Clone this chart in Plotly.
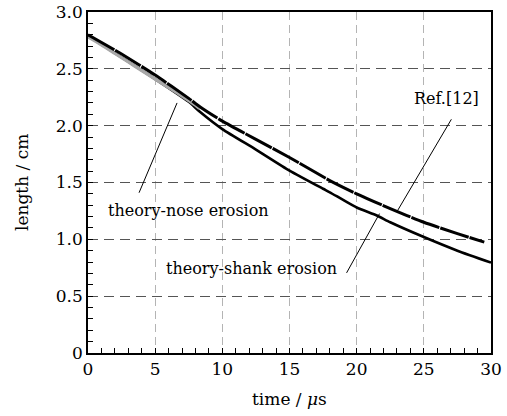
import plotly.graph_objects as go

# ---- data ----
ref_time = [0, 2.5, 5, 7.5, 8.35, 10, 12.5, 15, 17.5, 18, 20, 22.5, 25, 27.5, 29.5]
ref_len = [2.80, 2.63, 2.445, 2.24, 2.165, 2.04, 1.88, 1.72, 1.55, 1.517, 1.40, 1.27, 1.15, 1.05, 0.975]

shank_time = [0, 2.5, 5, 7.5, 8.35, 10, 12.5, 15, 17.5, 18, 20, 21.5, 22.5, 25, 27.5, 30]
shank_len = [2.79, 2.60, 2.41, 2.21, 2.12, 1.97, 1.79, 1.605, 1.445, 1.414, 1.28, 1.21, 1.15, 1.02, 0.90, 0.795]

nose_time = [0, 1, 2, 3, 4, 5, 6, 7, 8, 8.3]
nose_len = [2.78, 2.71, 2.635, 2.56, 2.485, 2.41, 2.335, 2.26, 2.18, 2.15]

y_ticks = [0, 0.5, 1.0, 1.5, 2.0, 2.5, 3.0]
y_ticktext = ["0", "0.5", "1.0", "1.5", "2.0", "2.5", "3.0"]
x_ticks = [0, 5, 10, 15, 20, 25, 30]

# labels: text, text position (data), leader line start/end (data)
labels = ["theory-nose erosion", "Ref.[12]", "theory-shank erosion"]
label_x = [7.45, 26.7, 12.2]
label_y = [1.25, 2.24, 0.74]
lead_x0 = [3.8, 27.05, 19.25]
lead_y0 = [1.41, 2.056, 0.705]
lead_x1 = [6.63, 23.04, 21.7]
lead_y1 = [2.20, 1.252, 1.226]

FONT = "DejaVu Serif"

fig = go.Figure()
fig.add_trace(go.Scatter(x=shank_time, y=shank_len, mode="lines",
                         line=dict(color="black", width=2.6, shape="spline", smoothing=0.6),
                         showlegend=False))
fig.add_trace(go.Scatter(x=nose_time, y=nose_len, mode="lines",
                         line=dict(color="#a8a8a8", width=3.2, shape="spline", smoothing=0.6),
                         showlegend=False))
fig.add_trace(go.Scatter(x=ref_time, y=ref_len, mode="lines",
                         line=dict(color="black", width=3, dash="30px,1px", shape="spline",
                                   smoothing=0.6), showlegend=False))

for t, tx, ty in zip(labels, label_x, label_y):
    fig.add_annotation(x=tx, y=ty, xref="x", yref="y", text=t, showarrow=False,
                       font=dict(family=FONT, size=16, color="black"))
for x0, y0, x1, y1 in zip(lead_x0, lead_y0, lead_x1, lead_y1):
    fig.add_shape(type="line", xref="x", yref="y", x0=x0, y0=y0, x1=x1, y1=y1,
                  line=dict(color="black", width=1))

# axis titles
fig.add_annotation(x=0.5, y=-0.135, xref="paper", yref="paper", yanchor="middle",
                   text="time / <i>μ</i>s", showarrow=False,
                   font=dict(family=FONT, size=17, color="black"))
fig.add_annotation(x=-0.165, y=0.5, xref="paper", yref="paper", xanchor="center",
                   text="length / cm", textangle=-90, showarrow=False,
                   font=dict(family=FONT, size=17, color="black"))

fig.update_xaxes(range=[0, 30], tickvals=x_ticks, ticks="inside", ticklen=5,
                 tickcolor="black", showline=True, mirror=True, linecolor="black",
                 linewidth=1.5, showgrid=True, gridcolor="#b4b4b4", griddash="8px,5px",
                 gridwidth=1, zeroline=False, automargin=False,
                 minor=dict(dtick=1, ticks="inside", ticklen=5, tickcolor="black", showgrid=False),
                 tickfont=dict(family=FONT, size=17, color="black"))
fig.update_yaxes(range=[0, 3], tickvals=y_ticks, ticktext=y_ticktext, ticks="inside",
                 ticklen=5, tickcolor="black", showline=True, mirror=True,
                 linecolor="black", linewidth=1.5, showgrid=True, gridcolor="#555555",
                 griddash="10px,6px", gridwidth=1, zeroline=False, automargin=False,
                 minor=dict(dtick=0.1, ticks="inside", ticklen=5, tickcolor="black", showgrid=False),
                 tickfont=dict(family=FONT, size=17, color="black"))

fig.update_layout(width=507, height=416, margin=dict(l=88, r=16, t=12, b=63),
                  plot_bgcolor="white", paper_bgcolor="white", showlegend=False,
                  font=dict(family=FONT))

fig.write_html("out.html")
